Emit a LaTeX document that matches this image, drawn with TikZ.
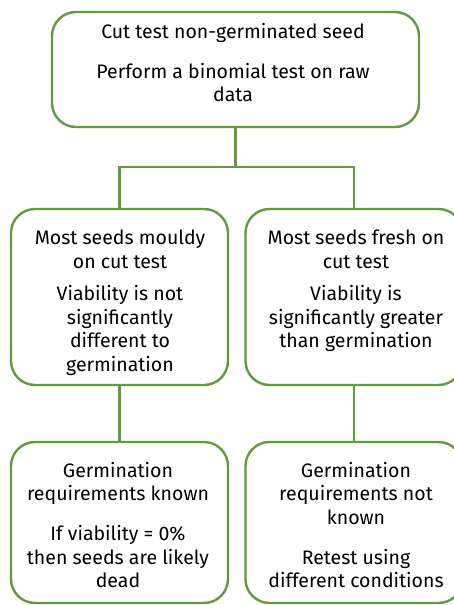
\documentclass[tikz,border=0pt]{standalone}
\usepackage{fontspec}
\setmainfont{Fira Sans}
\definecolor{boxgreen}{RGB}{98,155,60}
\begin{document}
\begin{tikzpicture}[x=1pt,y=-1pt,
  box/.style={draw=boxgreen, line width=2.4pt, rounded corners=24pt, fill=white, inner sep=0pt},
  txt/.style={align=center, font=\fontsize{19.5}{23.5}\selectfont, inner sep=0pt, anchor=north, text=black},
  link/.style={draw=boxgreen, line width=2.4pt}]
\path[use as bounding box] (0,0) rectangle (454,605);
\clip (0,0) rectangle (454,605);
% boxes
\node[box, minimum width=367pt, minimum height=115pt] (top) at (235.5,69.5) {};
\node[box, minimum width=217pt, minimum height=176pt] (ml) at (119.5,297) {};
\node[box, minimum width=217pt, minimum height=176pt] (mr) at (354,297) {};
\node[box, minimum width=217pt, minimum height=161pt] (bl) at (119.5,522.5) {};
\node[box, minimum width=217pt, minimum height=161pt] (br) at (354,522.5) {};
% connectors
\coordinate (j) at (235.5,167);
\draw[link] (top.south) -- (j);
\draw[link] (ml.north) |- (j) -| (mr.north);
\draw[link] (ml.south) -- (bl.north);
\draw[link] (mr.south) -- (br.north);
% texts
\node[txt] (ttop) at (233,23) {Cut test non-germinated seed\\[16.5pt] Perform a binomial test on raw\\ data};
\node[txt] (tml) at (120,230) {Most seeds mouldy\\ on cut test\\[9pt] Viability is not\\ significantly\\ different to\\ germination};
\node[txt] (tmr) at (356,230) {Most seeds fresh on\\ cut test\\[9pt] Viability is\\ significantly greater\\ than germination};
\node[txt] (tbl) at (118,462) {Germination\\ requirements known\\[16.5pt] If viability = 0\%\\ then seeds are likely\\ dead};
\node[txt] (tbr) at (356,462) {Germination\\ requirements not\\ known\\[16.5pt] Retest using\\ different conditions};
\end{tikzpicture}
\end{document}
